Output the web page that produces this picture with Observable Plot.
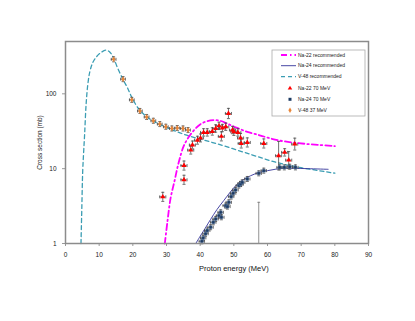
<!DOCTYPE html>
<html><head><meta charset="utf-8">
<script src="https://cdn.jsdelivr.net/npm/d3@7"></script>
<script src="https://cdn.jsdelivr.net/npm/@observablehq/plot@0.6"></script>
<style>body{margin:0;background:#fff;} #chart{width:415px;height:321px;}</style>
</head><body><div id="chart"></div>
<script>
// Recommended curves
const na22RecE = [29.5, 30.3, 31.2, 32.4, 33.6, 35.1, 36.5, 38, 40, 42, 44, 46, 48, 51, 54, 57, 60, 63, 67, 71, 75, 80];
const na22RecS = [1, 2, 4, 6.9, 12, 20, 26, 32, 39, 43, 44.5, 43.5, 40, 35, 31, 28.5, 26, 24, 22.5, 21.5, 20.8, 20];
const na24RecE = [38.7, 40, 41.5, 43.1, 45, 47, 49, 51, 53, 55, 57.5, 60, 62.5, 65, 68, 72, 78];
const na24RecS = [1, 1.25, 1.6, 2.1, 2.85, 3.74, 4.9, 6.2, 7.2, 8.05, 8.9, 9.4, 9.85, 10.1, 10.1, 10.0, 9.8];
const v48RecE = [4.6, 4.85, 5.1, 5.4, 5.7, 6.1, 6.6, 7.2, 8, 9, 10.5, 12, 13.2, 14.3, 15.5, 17.1, 18.5, 20, 22, 24.5, 27.5, 31, 36, 45, 55, 63, 70, 80];
const v48RecS = [1, 3, 9, 17, 30, 70, 130, 195, 255, 305, 355, 383, 360, 300, 220, 155, 118, 84, 61, 48, 40, 34, 28, 21.5, 15.5, 12, 10.3, 8.7];

// Measured data
const na22E = [28.9, 35.2, 35.2, 37.2, 37.7, 39.2, 40.1, 41.0, 42.1, 43.6, 44.6, 45.6, 46.3, 46.6, 47.6, 48.4, 49.6, 50.0, 51.2, 52.0, 52.2, 54.0, 58.9, 63.3, 65.1, 66.3, 68.1];
const na22S = [4.2, 7.1, 11.0, 17.7, 20.7, 24.0, 25.7, 30.5, 30.5, 31.4, 34.4, 37.3, 27.0, 34.9, 36.3, 54.6, 32.8, 31.1, 30.5, 25.7, 21.7, 22.4, 21.7, 14.9, 16.5, 13.0, 21.3];
const na22Err = [0.15, 0.15, 0.15, 0.13, 0.13, 0.13, 0.13, 0.12, 0.12, 0.12, 0.12, 0.12, 0.15, 0.12, 0.12, 0.17, 0.12, 0.12, 0.12, 0.15, 0.15, 0.15, 0.15, 0.55, 0.12, 0.3, 0.2];
const na24E = [40.5, 40.9, 41.6, 42.1, 43.1, 43.9, 44.6, 45.6, 46.3, 46.1, 47.6, 48.1, 48.5, 49.2, 49.8, 50.5, 51.5, 52.0, 52.5, 54.0, 57.4, 58.9, 63.6, 65.0, 66.6, 68.3];
const na24S = [1.07, 1.19, 1.35, 1.49, 1.65, 1.92, 2.13, 2.36, 2.24, 2.61, 3.21, 3.11, 3.55, 4.23, 4.69, 5.2, 5.94, 6.24, 6.56, 7.28, 8.66, 9.4, 10.4, 10.4, 10.6, 10.4];
const v48E = [14.3, 17.1, 19.7, 22.1, 24.1, 26.1, 28.0, 29.8, 31.6, 33.2, 34.9, 36.4];
const v48S = [289, 157, 83, 59, 49, 43.6, 39.4, 36.3, 34.4, 34.9, 34.4, 32.8];
// stray error bar (point below axis range)
const strayE = [57.4];
const strayTop = [3.55];

const xTicks = [0, 10, 20, 30, 40, 50, 60, 70, 80, 90];
const yTicks = [1, 10, 100];

const toRows = (E, S) => E.map((e, i) => ({E: e, s: S[i]}));
const na22Rec = toRows(na22RecE, na22RecS);
const na24Rec = toRows(na24RecE, na24RecS);
const v48Rec = toRows(v48RecE, v48RecS);
const na22 = na22E.map((e, i) => ({E: e, s: na22S[i], err: na22Err[i]}));
const na24 = na24E.map((e, i) => ({E: e, s: na24S[i], err: 0.08}));
const v48 = v48E.map((e, i) => ({E: e, s: v48S[i], err: 0.08}));
const stray = strayE.map((e, i) => ({E: e, top: strayTop[i]}));

const hcap = {draw(ctx, size) { const r = Math.sqrt(size / Math.PI); ctx.moveTo(-r, 0); ctx.lineTo(r, 0); }};
const vcap = {draw(ctx, size) { const r = Math.sqrt(size / Math.PI); ctx.moveTo(0, -r); ctx.lineTo(0, r); }};
const EB = "#4a4a4a";
function errorBars(data, dE) {
  return [
    Plot.ruleX(data, {x: "E", y1: d => d.s / (1 + d.err), y2: d => d.s * (1 + d.err), stroke: EB, strokeWidth: 0.8}),
    Plot.ruleY(data, {y: "s", x1: d => d.E - dE, x2: d => d.E + dE, stroke: EB, strokeWidth: 0.8}),
    Plot.dot(data, {x: "E", y: d => d.s * (1 + d.err), symbol: hcap, r: 1.5, stroke: EB, strokeWidth: 0.8}),
    Plot.dot(data, {x: "E", y: d => d.s / (1 + d.err), symbol: hcap, r: 1.5, stroke: EB, strokeWidth: 0.8}),
    Plot.dot(data, {x: d => d.E - dE, y: "s", symbol: vcap, r: 1.5, stroke: EB, strokeWidth: 0.8}),
    Plot.dot(data, {x: d => d.E + dE, y: "s", symbol: vcap, r: 1.5, stroke: EB, strokeWidth: 0.8})
  ];
}

const C22 = "#ff00ff", C24 = "#33339a", C48 = "#3b9db3";
const plot = Plot.plot({
  width: 415, height: 321,
  marginLeft: 65, marginRight: 47, marginTop: 41, marginBottom: 78,
  style: {fontFamily: "'Liberation Sans', Arial, sans-serif", background: "#fff"},
  x: {domain: [0, 90]},
  y: {type: "log", domain: [1, 500]},
  marks: [
    Plot.axisX({ticks: xTicks, tickFormat: d3.format("d"), tickSize: 3, fontSize: 6.5, label: null, stroke: "#999", color: "#222"}),
    Plot.axisY({ticks: yTicks, tickFormat: d3.format("d"), tickSize: 3, fontSize: 6.5, label: "Cross section (mb)", labelAnchor: "center", labelArrow: "none", labelOffset: 28, stroke: "#999", color: "#222"}),
    Plot.text(["Proton energy (MeV)"], {x: 50, frameAnchor: "bottom", dy: 27, fontSize: 7.5, fill: "#111"}),
    Plot.line(v48Rec, {x: "E", y: "s", stroke: C48, strokeWidth: 1.3, strokeDasharray: "4,3", curve: "catmull-rom"}),
    Plot.line(na22Rec, {x: "E", y: "s", stroke: C22, strokeWidth: 1.8, strokeDasharray: "6,3,1.5,3", curve: "catmull-rom"}),
    Plot.line(na24Rec, {x: "E", y: "s", stroke: C24, strokeWidth: 0.9, curve: "catmull-rom"}),
    Plot.ruleX(stray, {x: "E", y1: 1, y2: "top", stroke: "#777", strokeWidth: 0.8}),
    Plot.dot(stray, {x: "E", y: "top", symbol: hcap, r: 1.4, stroke: "#777", strokeWidth: 0.8}),
    ...errorBars(v48, 0.7),
    ...errorBars(na24, 0.8),
    ...errorBars(na22, 0.9),
    Plot.dot(v48, {x: "E", y: "s", symbol: "diamond", r: 1.8, fill: "#e8863a", stroke: "none"}),
    Plot.dot(na24, {x: "E", y: "s", symbol: "square", r: 1.7, fill: "#1d3a62", stroke: "#6b8cb5", strokeWidth: 0.4}),
    Plot.dot(na22, {x: "E", y: "s", symbol: "triangle", r: 1.9, fill: "#ff0000", stroke: "none"}),
    Plot.frame({stroke: "#8c8c8c", strokeWidth: 1.5})
  ]
});
document.getElementById("chart").appendChild(plot);

// Legend inside the plot area
const svg = d3.select(plot);
const lg = svg.append("g").attr("font-family", "'Liberation Sans', Arial, sans-serif").attr("font-size", 5).attr("fill", "#222").attr("text-anchor", "start");
lg.append("rect").attr("x", 272).attr("y", 50).attr("width", 93).attr("height", 66).attr("fill", "#fff").attr("stroke", "#aaa").attr("stroke-width", 0.8);
const legendItems = [
  {label: "Na-22 recommended", kind: "line", color: C22, dash: "6,3,1.5,3", w: 1.8},
  {label: "Na-24 recommended", kind: "line", color: C24, dash: null, w: 0.9},
  {label: "V-48 recommended", kind: "line", color: C48, dash: "4,3", w: 1.3},
  {label: "Na-22 70 MeV", kind: "sym", sym: d3.symbolTriangle, color: "#ff0000"},
  {label: "Na-24 70 MeV", kind: "sym", sym: d3.symbolSquare, color: "#1d3a62"},
  {label: "V-48 37 MeV", kind: "sym", sym: d3.symbolDiamond, color: "#e8863a"}
];
const rowY = [55, 65.7, 76.7, 88.3, 99.3, 110.3];
legendItems.forEach((it, i) => {
  const y = rowY[i];
  if (it.kind === "line") {
    const l = lg.append("line").attr("x1", 281).attr("x2", 296).attr("y1", y).attr("y2", y).attr("stroke", it.color).attr("stroke-width", it.w);
    if (it.dash) l.attr("stroke-dasharray", it.dash);
  } else {
    lg.append("path").attr("d", d3.symbol(it.sym, 9)()).attr("transform", `translate(290,${y})`).attr("fill", it.color);
  }
  lg.append("text").attr("x", 298).attr("y", y).attr("dy", "0.35em").attr("text-anchor", "start").text(it.label);
});
</script>
</body></html>
